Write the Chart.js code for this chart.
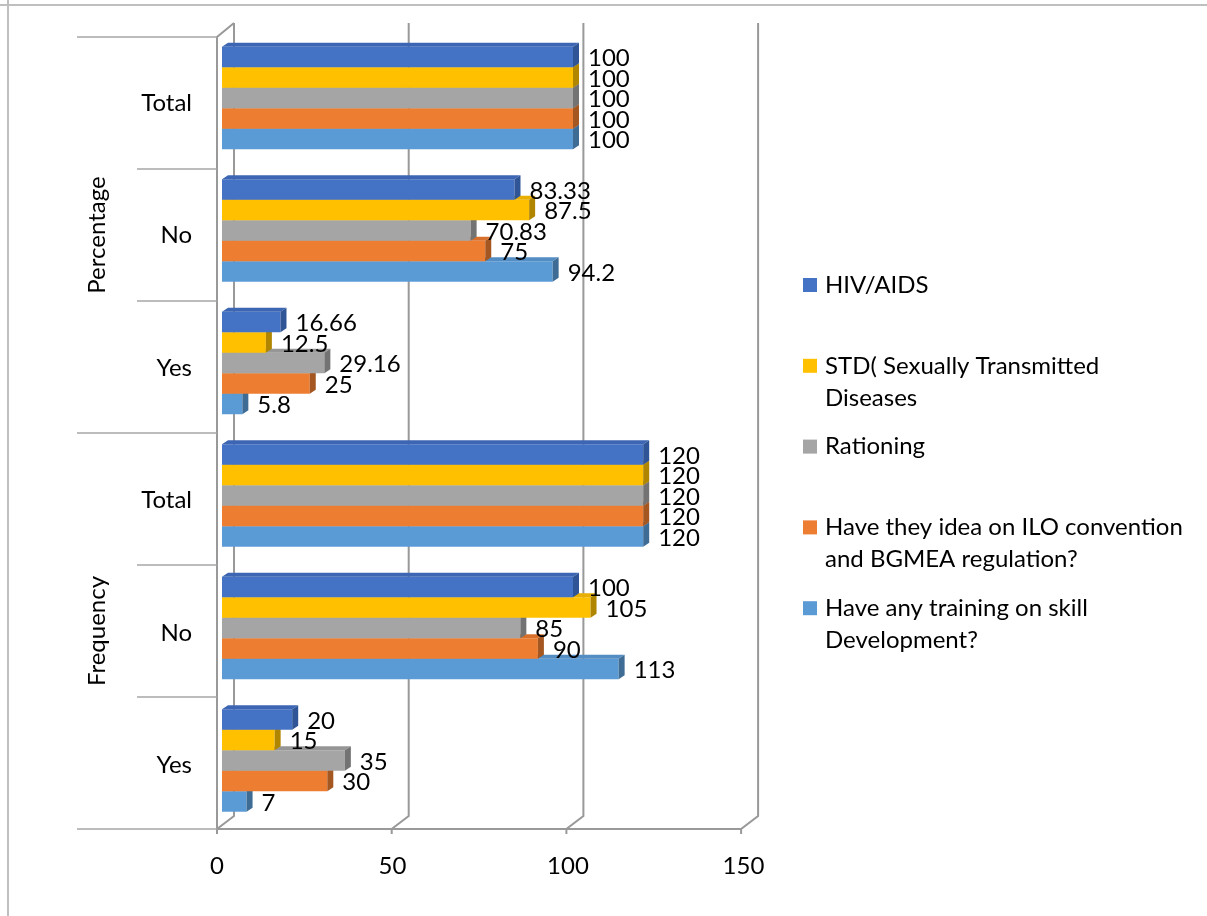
<!DOCTYPE html>
<html>
<head>
<meta charset="utf-8">
<script src="https://cdn.jsdelivr.net/npm/chart.js@4/dist/chart.umd.min.js"></script>
<style>
  html, body { margin: 0; padding: 0; background: #ffffff; }
  #wrap { position: relative; width: 1207px; height: 916px; }
</style>
</head>
<body>
<div id="wrap"><canvas id="chart" width="1207" height="916"></canvas></div>
<script>
// Survey answers: two groups (Percentage, Frequency), each split Total / No / Yes
const groups = ['Percentage', 'Frequency'];
const categories = ['Total', 'No', 'Yes', 'Total', 'No', 'Yes'];

const seriesNames = [
  'HIV/AIDS',
  'STD( Sexually Transmitted Diseases',
  'Rationing',
  'Have they idea on ILO convention and BGMEA regulation?',
  'Have any training on skill Development?'
];
// legend text broken onto lines the way it is shown beside the chart
const legendLines = [
  ['HIV/AIDS'],
  ['STD( Sexually Transmitted', 'Diseases'],
  ['Rationing'],
  ['Have they idea on ILO convention', 'and BGMEA regulation?'],
  ['Have any training on skill', 'Development?']
];

const hivAids       = [100, 83.33, 16.66, 120, 100, 20];
const std           = [100, 87.5, 12.5, 120, 105, 15];
const rationing     = [100, 70.83, 29.16, 120, 85, 35];
const iloIdea       = [100, 75, 25, 120, 90, 30];
const skillTraining = [100, 94.2, 5.8, 120, 113, 7];

const xTicks = [0, 50, 100, 150];

// front / top / side shades for the 3-D bars
const faceColors = [
  ['#4472C4', '#3C66B3', '#2F5597'],
  ['#FFC000', '#E8AE00', '#B08600'],
  ['#A5A5A5', '#969696', '#737373'],
  ['#ED7D31', '#D8702B', '#A55722'],
  ['#5B9BD5', '#538DC3', '#3F6C95']
];

const FONT = 'Lato, "Open Sans", "DejaVu Sans", sans-serif';
const FONT_SIZE = 24;

const seriesValues = [hivAids, std, rationing, iloIdea, skillTraining];

// geometry of the box walls, relative to the bar area
const DEPTH_X = 17, DEPTH_Y = 13;
const BAR_DX = 6, BAR_DY = 4;

function frontWall(ca) {
  return { top: ca.top + 5.25, bottom: ca.bottom + 2.25 };
}
function frontX(xs, v) { return xs.getPixelForValue(v) - 5 - v * 0.016; }
function backX(xs, v) { return frontX(xs, v) + DEPTH_X; }

const wallsPlugin = {
  id: 'walls',
  beforeDatasetsDraw(chart) {
    const { ctx, chartArea: ca, scales: { x: xs } } = chart;
    const fw = frontWall(ca);
    ctx.save();

    // outer frame of the chart object
    ctx.strokeStyle = '#BFBFBF';
    ctx.lineWidth = 2;
    ctx.beginPath();
    ctx.moveTo(0, 5); ctx.lineTo(1207, 5);
    ctx.moveTo(8, 0); ctx.lineTo(8, 916);
    ctx.stroke();

    // back wall gridlines, floor diagonals and tick marks
    ctx.strokeStyle = '#999999';
    ctx.lineWidth = 2;
    xTicks.forEach(v => {
      const fx = frontX(xs, v), bx = backX(xs, v);
      ctx.beginPath();
      ctx.moveTo(bx, fw.top - DEPTH_Y - 1);
      ctx.lineTo(bx, fw.bottom - DEPTH_Y);
      ctx.lineTo(fx, fw.bottom);
      ctx.lineTo(fx, fw.bottom + 5);
      ctx.stroke();
    });

    // front floor edge and the left wall's front edge
    ctx.beginPath();
    ctx.moveTo(frontX(xs, xTicks[xTicks.length - 1]), fw.bottom);
    ctx.lineTo(frontX(xs, 0), fw.bottom);
    ctx.lineTo(frontX(xs, 0), fw.top);
    ctx.lineTo(backX(xs, 0), fw.top - DEPTH_Y - 1);
    ctx.stroke();

    // multi-level category dividers to the left of the wall
    ctx.strokeStyle = '#A6A6A6';
    ctx.lineWidth = 1.5;
    const n = categories.length;
    const band = (fw.bottom - fw.top) / n;
    const perGroup = n / groups.length;
    const wallX = frontX(xs, 0);
    for (let i = 0; i <= n; i++) {
      const y = fw.top + i * band;
      const startX = (i % perGroup === 0) ? 77 : 137;
      ctx.beginPath();
      ctx.moveTo(startX, y);
      ctx.lineTo(wallX, y);
      ctx.stroke();
    }

    // group titles, rotated
    ctx.fillStyle = '#000000';
    ctx.font = FONT_SIZE + 'px ' + FONT;
    ctx.textAlign = 'center';
    ctx.textBaseline = 'middle';
    groups.forEach((g, gi) => {
      const yc = fw.top + (gi + 0.5) * perGroup * band;
      ctx.save();
      ctx.translate(97, yc);
      ctx.rotate(-Math.PI / 2);
      ctx.fillText(g, 0, 0);
      ctx.restore();
    });
    ctx.restore();
  },

  // top and side faces give each bar its depth
  afterDatasetDraw(chart, args) {
    const { ctx } = chart;
    const meta = args.meta;
    const shades = faceColors[args.index];
    ctx.save();
    meta.data.forEach(bar => {
      const p = bar.getProps(['x', 'y', 'base', 'height'], true);
      const top = p.y - p.height / 2, bottom = p.y + p.height / 2;
      ctx.fillStyle = shades[1];
      ctx.beginPath();
      ctx.moveTo(p.base, top);
      ctx.lineTo(p.x, top);
      ctx.lineTo(p.x + BAR_DX, top - BAR_DY);
      ctx.lineTo(p.base + BAR_DX, top - BAR_DY);
      ctx.closePath();
      ctx.fill();
      ctx.fillStyle = shades[2];
      ctx.beginPath();
      ctx.moveTo(p.x, top);
      ctx.lineTo(p.x + BAR_DX, top - BAR_DY);
      ctx.lineTo(p.x + BAR_DX, bottom - BAR_DY);
      ctx.lineTo(p.x, bottom);
      ctx.closePath();
      ctx.fill();
    });
    ctx.restore();
  },

  // value labels next to every bar
  afterDatasetsDraw(chart) {
    const { ctx } = chart;
    ctx.save();
    ctx.fillStyle = '#000000';
    ctx.font = FONT_SIZE + 'px ' + FONT;
    ctx.textAlign = 'left';
    ctx.textBaseline = 'middle';
    chart.data.datasets.forEach((ds, di) => {
      const meta = chart.getDatasetMeta(di);
      meta.data.forEach((bar, i) => {
        const p = bar.getProps(['x', 'y'], true);
        ctx.fillText(String(ds.data[i]), p.x + 15, p.y + 1.5);
      });
    });
    ctx.restore();
  },

  // legend at the right, with wrapped entries
  afterDraw(chart) {
    const { ctx } = chart;
    ctx.save();
    ctx.font = FONT_SIZE + 'px ' + FONT;
    ctx.textAlign = 'left';
    ctx.textBaseline = 'middle';
    legendLines.forEach((lines, i) => {
      const y = 285 + i * 80.8;
      ctx.fillStyle = faceColors[i][0];
      ctx.fillRect(803, y - 7, 14, 14);
      ctx.fillStyle = '#000000';
      lines.forEach((t, li) => ctx.fillText(t, 825, y + li * 32));
    });
    ctx.restore();
  }
};

const datasets = seriesNames.map((name, i) => ({
  label: name,
  data: seriesValues[i],
  backgroundColor: faceColors[i][0],
  borderWidth: 0,
  categoryPercentage: 0.772,
  barPercentage: 1.0
}));

new Chart(document.getElementById('chart'), {
  type: 'bar',
  data: { labels: categories, datasets: datasets },
  options: {
    indexAxis: 'y',
    responsive: false,
    animation: false,
    events: [],
    layout: { padding: { top: 31.75, right: 458.5, bottom: 0, left: 0 } },
    plugins: {
      legend: { display: false },
      tooltip: { enabled: false }
    },
    scales: {
      x: {
        min: 0,
        max: 150,
        afterBuildTicks(scale) { scale.ticks = xTicks.map(v => ({ value: v })); },
        afterFit(scale) {
          scale.height = 916 - 826.75;
          scale.paddingLeft = 0;
          scale.paddingRight = 0;
        },
        grid: { display: false, drawTicks: false },
        border: { display: false },
        ticks: {
          font: { family: FONT, size: FONT_SIZE },
          color: '#000000',
          padding: 25,
          labelOffset: -5,
          maxRotation: 0
        }
      },
      y: {
        afterFit(scale) {
          scale.width = 222;
          scale.paddingTop = 0;
          scale.paddingBottom = 0;
        },
        grid: { display: false, drawTicks: false },
        border: { display: false },
        ticks: {
          font: { family: FONT, size: FONT_SIZE },
          color: '#000000',
          padding: 30,
          labelOffset: 5
        }
      }
    }
  },
  plugins: [wallsPlugin]
});
</script>
</body>
</html>
